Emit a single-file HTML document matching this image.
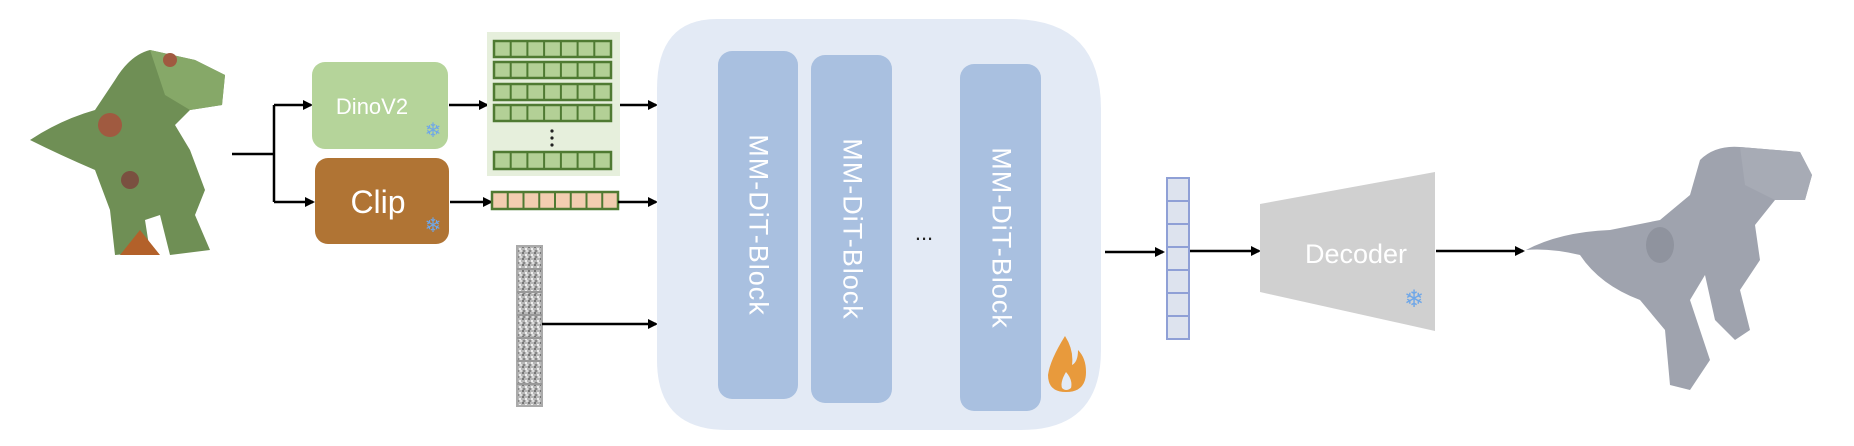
<!DOCTYPE html>
<html><head><meta charset="utf-8"><style>
html,body{margin:0;padding:0;background:#fff;}
body{width:1854px;height:446px;position:relative;overflow:hidden;font-family:"Liberation Sans",sans-serif;}
.abs{position:absolute;}
.blk{position:absolute;background:#a9c0e0;border-radius:14px;}
.blk span{position:absolute;left:50%;top:50%;transform:translate(-50%,-50%) rotate(90deg);color:#fff;font-size:27px;white-space:nowrap;letter-spacing:1px;}
</style></head><body>
<svg class="abs" style="left:0;top:0" width="1854" height="446" viewBox="0 0 1854 446">
<defs>
<marker id="ar" markerWidth="10" markerHeight="10" refX="8" refY="5" orient="auto" markerUnits="userSpaceOnUse"><path d="M0,0 L10,5 L0,10 Z" fill="#000"/></marker>
<pattern id="noise" width="6" height="6" patternUnits="userSpaceOnUse"><rect width="6" height="6" fill="#b8b8b8"/><rect x="0" y="0" width="2" height="2" fill="#777"/><rect x="3" y="2" width="2" height="2" fill="#eee"/><rect x="1" y="4" width="2" height="2" fill="#888"/><rect x="4" y="4" width="2" height="2" fill="#ddd"/></pattern>
</defs>
<!-- colored dino -->
<g>
<path d="M30,140 Q60,120 95,110 L115,80 Q130,55 150,50 L195,60 L225,75 L222,105 L190,110 L175,125 L190,150 L205,190 L195,215 L210,250 L170,255 L160,215 L145,220 L150,252 L115,255 L110,210 L95,170 Q60,155 30,140 Z" fill="#6f8f55"/>
<path d="M150,50 L195,60 L225,75 L222,105 L190,110 L165,95 Z" fill="#86a868"/>
<circle cx="110" cy="125" r="12" fill="#a05a40"/><circle cx="170" cy="60" r="7" fill="#a05a40"/>
<circle cx="130" cy="180" r="9" fill="#7a5040"/>
<path d="M140,230 L160,255 L120,255 Z" fill="#b3612a"/>
</g>
<!-- fork -->
<path d="M232,154 H274 M274,105 V202" stroke="#000" stroke-width="2.5" fill="none"/>
<line x1="274" y1="105" x2="311" y2="105" stroke="#000" stroke-width="2.5" marker-end="url(#ar)"/>
<line x1="274" y1="202" x2="313" y2="202" stroke="#000" stroke-width="2.5" marker-end="url(#ar)"/>
<!-- dino box -->
<rect x="312" y="62" width="136" height="87" rx="13" fill="#b5d49a"/>
<text x="372" y="114" font-size="22" fill="#fff" text-anchor="middle" font-family="Liberation Sans">DinoV2</text>
<text x="433" y="137" font-size="20" fill="#6fa7e8" text-anchor="middle">❄</text>
<rect x="315" y="158" width="134" height="86" rx="13" fill="#b07434"/>
<text x="378" y="213" font-size="32" fill="#fff" text-anchor="middle" font-family="Liberation Sans">Clip</text>
<text x="433" y="232" font-size="20" fill="#6fa7e8" text-anchor="middle">❄</text>
<!-- arrows to tokens -->
<line x1="449" y1="105" x2="487" y2="105" stroke="#000" stroke-width="2.5" marker-end="url(#ar)"/>
<line x1="450" y1="202" x2="491" y2="202" stroke="#000" stroke-width="2.5" marker-end="url(#ar)"/>
<!-- green panel -->
<rect x="487" y="32" width="133" height="144" fill="#e6efdc"/>
<g fill="#b3d096" stroke="#4f7a32" stroke-width="2.5">
<rect x="494" y="41" width="117" height="16"/><rect x="494" y="62" width="117" height="16"/>
<rect x="494" y="84" width="117" height="16"/><rect x="494" y="105" width="117" height="16"/>
<rect x="494" y="152" width="117" height="17"/>
</g>
<g stroke="#4f7a32" stroke-width="2">
<path d="M510.7,41V57 M527.4,41V57 M544.1,41V57 M560.9,41V57 M577.6,41V57 M594.3,41V57"/>
<path d="M510.7,62V78 M527.4,62V78 M544.1,62V78 M560.9,62V78 M577.6,62V78 M594.3,62V78"/>
<path d="M510.7,84V100 M527.4,84V100 M544.1,84V100 M560.9,84V100 M577.6,84V100 M594.3,84V100"/>
<path d="M510.7,105V121 M527.4,105V121 M544.1,105V121 M560.9,105V121 M577.6,105V121 M594.3,105V121"/>
<path d="M510.7,152V169 M527.4,152V169 M544.1,152V169 M560.9,152V169 M577.6,152V169 M594.3,152V169"/>
</g>
<g fill="#222"><circle cx="552" cy="131" r="1.6"/><circle cx="552" cy="138" r="1.6"/><circle cx="552" cy="145" r="1.6"/></g>
<!-- clip tokens -->
<rect x="492" y="192" width="126" height="17" fill="#f2cdb0" stroke="#4f7a32" stroke-width="2.5"/>
<g stroke="#4f7a32" stroke-width="2"><path d="M507.75,192V209 M523.5,192V209 M539.25,192V209 M555,192V209 M570.75,192V209 M586.5,192V209 M602.25,192V209"/></g>
<line x1="620" y1="105" x2="656" y2="105" stroke="#000" stroke-width="2.5" marker-end="url(#ar)"/>
<line x1="618" y1="202" x2="656" y2="202" stroke="#000" stroke-width="2.5" marker-end="url(#ar)"/>
<!-- noise -->
<rect x="517" y="246" width="25" height="160" fill="url(#noise)" stroke="#aaa" stroke-width="2"/>
<g stroke="#999" stroke-width="2"><path d="M517,269H542 M517,292H542 M517,315H542 M517,338H542 M517,361H542 M517,384H542"/></g>
<line x1="542" y1="324" x2="656" y2="324" stroke="#000" stroke-width="2.5" marker-end="url(#ar)"/>
<!-- big box -->
<path d="M717,19 H1011 Q1101,19 1101,109 V350 Q1101,430 1021,430 H727 Q657,430 657,360 V89 Q657,19 717,19 Z" fill="#e3eaf5"/>
<text x="924" y="240" font-size="22" fill="#222" text-anchor="middle">...</text>
<!-- fire -->
<path d="M1065,336 Q1050,360 1048,375 Q1048,392 1066,392 Q1086,392 1086,372 Q1086,358 1078,350 Q1078,362 1072,365 Q1074,350 1065,336 Z" fill="#e89a3c"/>
<path d="M1066,372 Q1060,382 1062,388 Q1066,392 1071,388 Q1073,380 1066,372 Z" fill="#e3eaf5"/>
<!-- arrows right -->
<line x1="1105" y1="252" x2="1163" y2="252" stroke="#000" stroke-width="2.5" marker-end="url(#ar)"/>
<rect x="1167" y="178" width="22" height="161" fill="#dde3ee" stroke="#8fa0d6" stroke-width="2"/>
<g stroke="#8fa0d6" stroke-width="2"><path d="M1167,201H1189 M1167,224H1189 M1167,247H1189 M1167,270H1189 M1167,293H1189 M1167,316H1189"/></g>
<line x1="1190" y1="251" x2="1259" y2="251" stroke="#000" stroke-width="2.5" marker-end="url(#ar)"/>
<polygon points="1260,204 1435,172 1435,331 1260,292" fill="#d0d0d0"/>
<text x="1356" y="263" font-size="27" fill="#fff" text-anchor="middle">Decoder</text>
<text x="1414" y="307" font-size="24" fill="#6fa7e8" text-anchor="middle">❄</text>
<line x1="1436" y1="251" x2="1523" y2="251" stroke="#000" stroke-width="2.5" marker-end="url(#ar)"/>
<!-- gray dino -->
<g fill="#9fa3ae">
<path d="M1526,250 Q1560,232 1610,230 L1660,220 L1690,195 L1700,160 Q1715,145 1740,147 L1800,152 L1812,175 L1805,200 L1775,200 L1755,225 L1760,260 L1740,290 L1750,330 L1735,340 L1715,320 L1705,275 L1690,300 L1710,360 L1690,390 L1670,385 L1665,330 L1640,300 Q1600,285 1580,255 Q1550,248 1526,250 Z"/>
<path d="M1740,147 L1800,152 L1812,175 L1805,200 L1775,200 L1745,185 Z" fill="#a7abb5"/>
<ellipse cx="1660" cy="245" rx="14" ry="18" fill="#8f939e"/>
</g>
</svg>
<div class="blk" style="left:718px;top:51px;width:80px;height:348px;"><span>MM-DiT-Block</span></div>
<div class="blk" style="left:811px;top:55px;width:81px;height:348px;"><span>MM-DiT-Block</span></div>
<div class="blk" style="left:960px;top:64px;width:81px;height:347px;"><span>MM-DiT-Block</span></div>
</body></html>
